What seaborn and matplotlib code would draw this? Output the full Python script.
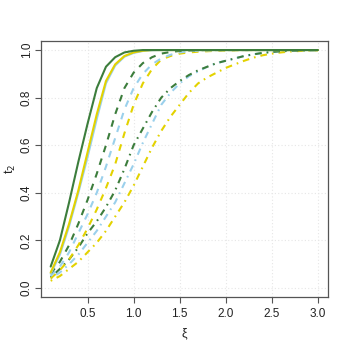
import numpy as np
import pandas as pd
import seaborn as sns
import matplotlib.pyplot as plt

# xi grid
xi = [0.1, 0.2, 0.3, 0.4, 0.5, 0.6, 0.7, 0.8, 0.9, 1.0,
      1.1, 1.2, 1.3, 1.4, 1.5, 1.6, 1.7, 1.8, 1.9, 2.0,
      2.1, 2.2, 2.3, 2.4, 2.5, 2.6, 2.7, 2.8, 2.9, 3.0]

# solid curves
solid_green = [0.09, 0.20, 0.36, 0.53, 0.69, 0.84, 0.93, 0.97, 0.99, 0.997,
               1.0, 1.0, 1.0, 1.0, 1.0, 1.0, 1.0, 1.0, 1.0, 1.0,
               1.0, 1.0, 1.0, 1.0, 1.0, 1.0, 1.0, 1.0, 1.0, 1.0]
solid_blue = [0.06, 0.14, 0.26, 0.40, 0.55, 0.71, 0.86, 0.935, 0.972, 0.988,
              0.996, 0.999, 1.0, 1.0, 1.0, 1.0, 1.0, 1.0, 1.0, 1.0,
              1.0, 1.0, 1.0, 1.0, 1.0, 1.0, 1.0, 1.0, 1.0, 1.0]
solid_yellow = [0.065, 0.15, 0.27, 0.41, 0.57, 0.73, 0.87, 0.94, 0.975, 0.99,
                0.997, 1.0, 1.0, 1.0, 1.0, 1.0, 1.0, 1.0, 1.0, 1.0,
                1.0, 1.0, 1.0, 1.0, 1.0, 1.0, 1.0, 1.0, 1.0, 1.0]

# dashed curves
dashed_green = [0.06, 0.11, 0.18, 0.27, 0.37, 0.48, 0.60, 0.73, 0.84, 0.905,
                0.945, 0.97, 0.985, 0.992, 0.996, 0.998, 0.999, 1.0, 1.0, 1.0,
                1.0, 1.0, 1.0, 1.0, 1.0, 1.0, 1.0, 1.0, 1.0, 1.0]
dashed_blue = [0.05, 0.09, 0.15, 0.23, 0.31, 0.40, 0.51, 0.63, 0.75, 0.84,
               0.90, 0.94, 0.965, 0.98, 0.99, 0.995, 0.997, 0.998, 0.999, 1.0,
               1.0, 1.0, 1.0, 1.0, 1.0, 1.0, 1.0, 1.0, 1.0, 1.0]
dashed_yellow = [0.04, 0.075, 0.12, 0.18, 0.25, 0.33, 0.42, 0.52, 0.65, 0.77,
                 0.86, 0.92, 0.96, 0.975, 0.985, 0.99, 0.993, 0.995, 0.997, 0.998,
                 0.999, 1.0, 1.0, 1.0, 1.0, 1.0, 1.0, 1.0, 1.0, 1.0]

# dot-dash curves
dotdash_green = [0.045, 0.08, 0.12, 0.17, 0.23, 0.28, 0.34, 0.41, 0.50, 0.60,
                 0.67, 0.74, 0.80, 0.84, 0.87, 0.895, 0.915, 0.93, 0.945, 0.955,
                 0.965, 0.975, 0.982, 0.988, 0.992, 0.995, 0.997, 0.998, 0.999, 1.0]
dotdash_blue = [0.04, 0.065, 0.10, 0.14, 0.19, 0.24, 0.30, 0.36, 0.44, 0.52,
                0.61, 0.69, 0.77, 0.82, 0.86, 0.89, 0.91, 0.93, 0.945, 0.955,
                0.965, 0.975, 0.982, 0.988, 0.992, 0.995, 0.997, 0.998, 0.999, 1.0]
dotdash_yellow = [0.03, 0.05, 0.08, 0.11, 0.15, 0.19, 0.24, 0.30, 0.36, 0.43,
                  0.51, 0.59, 0.66, 0.72, 0.77, 0.82, 0.86, 0.885, 0.905, 0.925,
                  0.94, 0.955, 0.968, 0.978, 0.985, 0.99, 0.994, 0.996, 0.998, 0.999]

green = "#3c7d3c"
blue = "#9ad0ec"
yellow = "#e3d200"

series = [
    (dotdash_yellow, yellow, "dotdash"),
    (dotdash_blue, blue, "dotdash"),
    (dotdash_green, green, "dotdash"),
    (dashed_yellow, yellow, "dashed"),
    (dashed_blue, blue, "dashed"),
    (dashed_green, green, "dashed"),
    (solid_blue, blue, "solid"),
    (solid_yellow, yellow, "solid"),
    (solid_green, green, "solid"),
]
dash_styles = {"solid": "-", "dashed": (0, (3.2, 3.2)), "dotdash": (0, (0.8, 2.4, 3.2, 2.4))}

sns.set_style("white")
plt.rcParams["font.family"] = ["Liberation Sans", "DejaVu Sans"]

fig = plt.figure(figsize=(3.49, 3.49), dpi=100)
ax = fig.add_axes([0.1175, 0.149, 0.8225, 0.7335])

for vals, col, sty in series:
    df = pd.DataFrame({"xi": xi, "t2": vals})
    sns.lineplot(data=df, x="xi", y="t2", color=col, linewidth=1.5,
                 linestyle=dash_styles[sty], ax=ax)

ax.set_xlim(-0.005, 3.11)
ax.set_ylim(-0.038, 1.038)
ax.set_xticks([0.5, 1.0, 1.5, 2.0, 2.5, 3.0])
ax.set_yticks([0.0, 0.2, 0.4, 0.6, 0.8, 1.0])
ax.grid(True, color="#e6e6e6", linestyle=(0, (1, 2)), linewidth=0.8)
ax.set_axisbelow(True)
for s in ax.spines.values():
    s.set_color("#555555")
    s.set_linewidth(0.9)
ax.tick_params(axis="both", direction="out", length=4, width=0.8, color="#555555",
               labelsize=8.5, labelcolor="#222222", bottom=True, left=True)
ax.tick_params(axis="x", pad=4)
ax.tick_params(axis="y", pad=2)
for lab in ax.get_yticklabels():
    lab.set_rotation(90)
    lab.set_va("center")
ax.set_xlabel("ξ", fontsize=9, color="#222222", labelpad=5)
ax.set_ylabel("t$_2$", fontsize=9, color="#222222", labelpad=2)

fig.savefig("out.png", dpi=100)
